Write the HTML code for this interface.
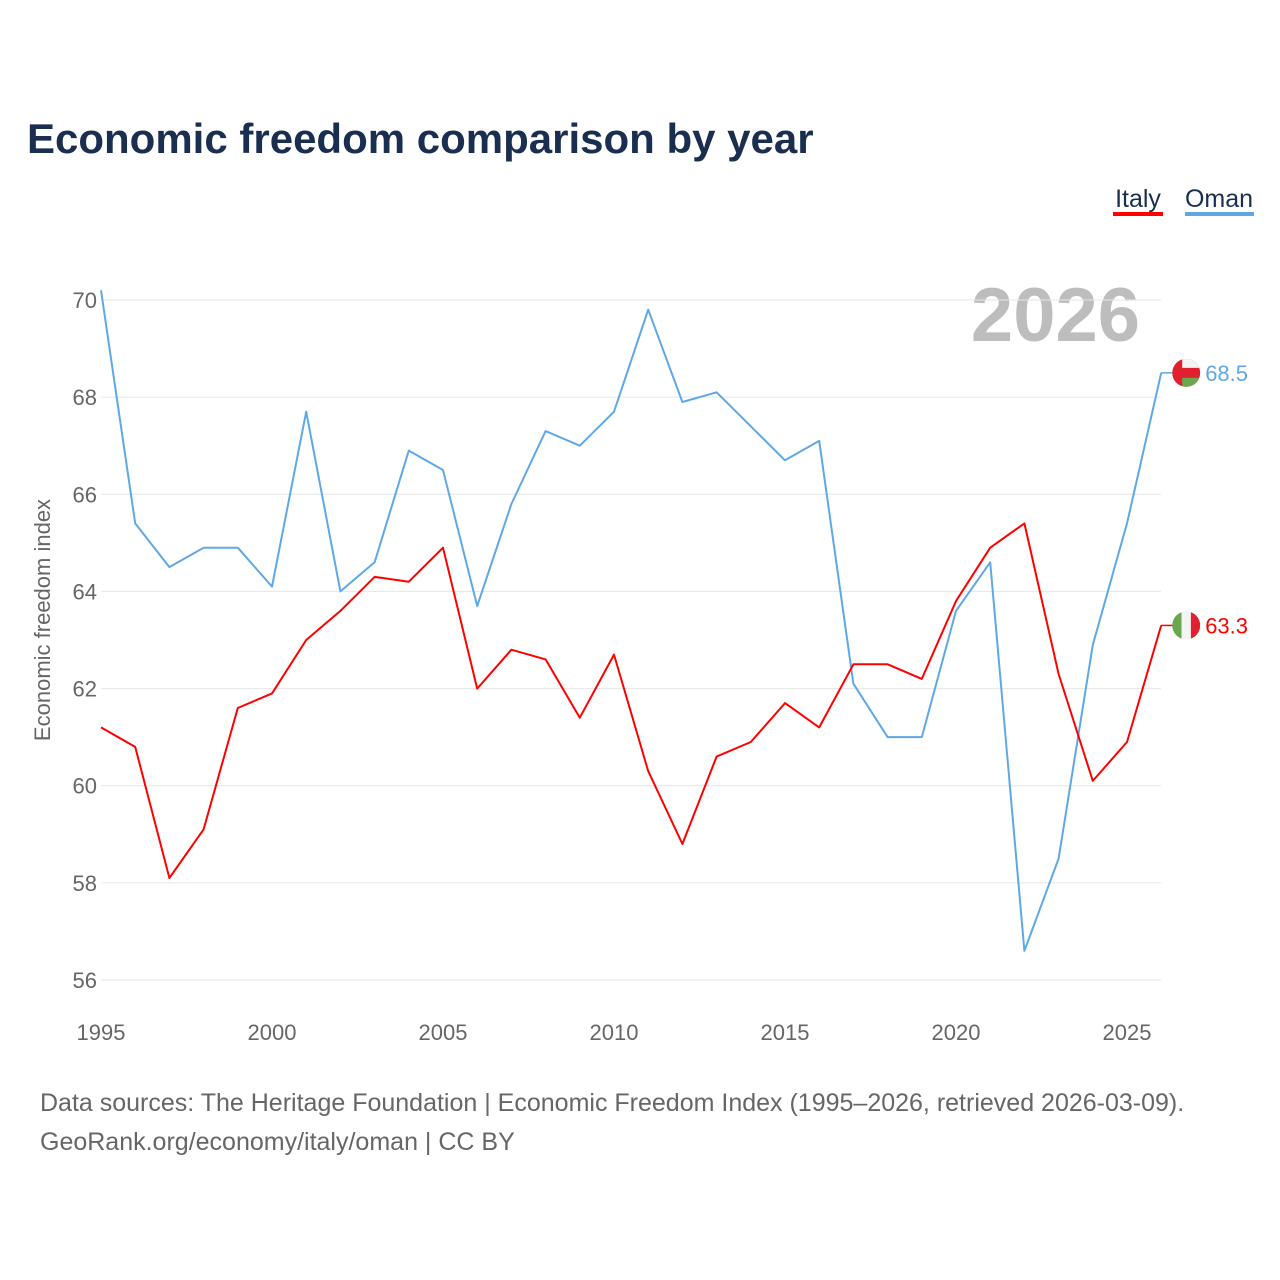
<!DOCTYPE html>
<html><head><meta charset="utf-8">
<style>
body{margin:0;background:#fff;font-family:"Liberation Sans",sans-serif;}
svg{display:block}
</style></head>
<body>
<svg id="chart" width="1280" height="1280" viewBox="0 0 1280 1280">
<defs id="defs"></defs>
<rect width="1280" height="1280" fill="#fff"/>
<text x="27" y="153" font-size="42" font-weight="bold" fill="#1a2e4f">Economic freedom comparison by year</text>
<g>
<text x="1138" y="207" font-size="25" fill="#1a2e4f" text-anchor="middle">Italy</text>
<rect x="1113" y="212" width="50" height="4" fill="#f00"/>
<text x="1219" y="207" font-size="25" fill="#1a2e4f" text-anchor="middle">Oman</text>
<rect x="1185" y="212" width="69" height="4" fill="#5fa8e8"/>
</g>
<text x="1140" y="341" font-size="76" font-weight="bold" fill="#bdbdbd" text-anchor="end">2026</text>
<g id="grid"></g>
<g id="yticks"></g>
<g id="xticks"></g>
<text transform="translate(50,620) rotate(-90)" font-size="22" fill="#666" text-anchor="middle">Economic freedom index</text>
<g id="series"></g>
<text x="40" y="1111" font-size="25" fill="#666">Data sources: The Heritage Foundation | Economic Freedom Index (1995–2026, retrieved 2026-03-09).</text>
<text x="40" y="1150" font-size="25" fill="#666">GeoRank.org/economy/italy/oman | CC BY</text>
</svg>
<script>
const years=[1995,1996,1997,1998,1999,2000,2001,2002,2003,2004,2005,2006,2007,2008,2009,2010,2011,2012,2013,2014,2015,2016,2017,2018,2019,2020,2021,2022,2023,2024,2025,2026];
const omanValues=[70.2,65.4,64.5,64.9,64.9,64.1,67.7,64.0,64.6,66.9,66.5,63.7,65.8,67.3,67.0,67.7,69.8,67.9,68.1,67.4,66.7,67.1,62.1,61.0,61.0,63.6,64.6,56.6,58.5,62.9,65.4,68.5];
const italyValues=[61.2,60.8,58.1,59.1,61.6,61.9,63.0,63.6,64.3,64.2,64.9,62.0,62.8,62.6,61.4,62.7,60.3,58.8,60.6,60.9,61.7,61.2,62.5,62.5,62.2,63.8,64.9,65.4,62.3,60.1,60.9,63.3];
const yTicks=[56,58,60,62,64,66,68,70];
const xTicks=[1995,2000,2005,2010,2015,2020,2025];
const NS="http://www.w3.org/2000/svg";
const x=v=>101+(v-1995)*(1127-101)/30;
const y=v=>300+(70-v)*(680/14);
function mk(tag,attrs,parent,txt){const e=document.createElementNS(NS,tag);for(const k in attrs)e.setAttribute(k,attrs[k]);if(txt!==undefined)e.textContent=txt;parent.appendChild(e);return e;}
const grid=document.getElementById('grid'),yt=document.getElementById('yticks'),xt=document.getElementById('xticks'),ser=document.getElementById('series'),defs=document.getElementById('defs');
yTicks.forEach(t=>{
 const l=mk('line',{x1:101,x2:1161,y1:y(t),y2:y(t),stroke:'#e6e6e6','stroke-width':1},grid);
 
 
 const tx=mk('text',{x:97,y:y(t)+8,'font-size':22,fill:'#666','text-anchor':'end'},yt,String(t));
 
 
});
xTicks.forEach(t=>{
 const tx=mk('text',{x:x(t),y:1040,'font-size':22,fill:'#666','text-anchor':'middle'},xt,String(t));
 
 
});
function line(vals,color,name){
 const d=vals.map((v,i)=>(i?'L':'M')+x(years[i]).toFixed(1)+','+y(v).toFixed(1)).join('');
 const p=mk('path',{d:d,fill:'none',stroke:color,'stroke-width':2,'stroke-linejoin':'round'},ser);
 
 
 const lv=vals[vals.length-1],ly=y(lv),lx=x(years[years.length-1]);
 mk('line',{x1:lx,x2:lx+12,y1:ly,y2:ly,stroke:color,'stroke-width':1.5},ser);
 const cx=lx+25;
 const cp=mk('clipPath',{id:'clip-'+name},defs);
 mk('circle',{cx:cx,cy:ly,r:14},cp);
 const g=mk('g',{'clip-path':'url(#clip-'+name+')'},ser);
 
 
 if(name==='italy'){
  mk('rect',{x:cx-14,y:ly-14,width:9.3,height:28,fill:'#6aa84f'},g);
  mk('rect',{x:cx-4.7,y:ly-14,width:9.4,height:28,fill:'#f4f4f4'},g);
  mk('rect',{x:cx+4.7,y:ly-14,width:9.3,height:28,fill:'#e0202e'},g);
 }else{
  mk('rect',{x:cx-14,y:ly-14,width:28,height:28,fill:'#e0202e'},g);
  mk('rect',{x:cx-4,y:ly-14,width:18,height:9,fill:'#f4f4f4'},g);
  mk('rect',{x:cx-4,y:ly+5,width:18,height:9,fill:'#6aa84f'},g);
 }
 const t=mk('text',{x:lx+44,y:ly+8,'font-size':22,fill:color},ser,lv.toFixed(1));
 
 
}
line(omanValues,'#5fa8e8','oman');
line(italyValues,'#ff0000','italy');
</script>
</body></html>
